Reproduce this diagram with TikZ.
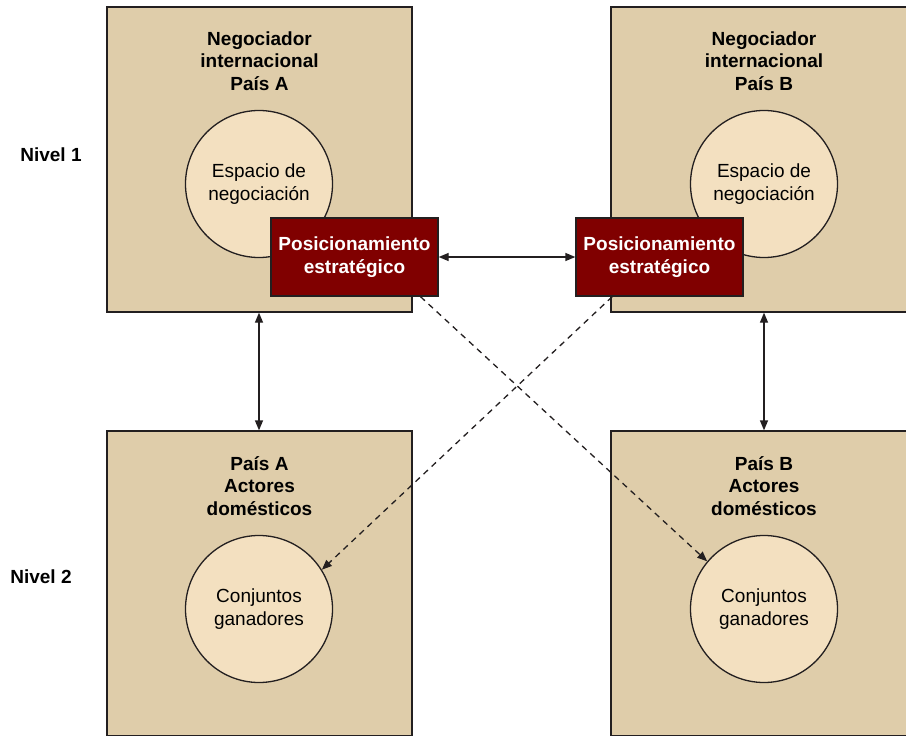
\documentclass[tikz,border=0pt]{standalone}
\usepackage{fontspec}
\setmainfont{Liberation Sans}
\usepackage{tikz}
\usetikzlibrary{arrows.meta}
\definecolor{cajafondo}{RGB}{223,205,170}
\definecolor{circfondo}{RGB}{243,224,192}
\definecolor{granate}{RGB}{128,0,0}
\definecolor{borde}{RGB}{35,31,32}
\newcommand{\tamano}{\fontsize{19}{22.5}\selectfont}
\tikzset{caja/.style={draw=borde, fill=cajafondo, line width=1.3pt, rectangle, minimum width=305pt, minimum height=305pt}}
\tikzset{circulo/.style={draw=borde, fill=circfondo, line width=1.3pt, circle, minimum size=147pt, align=center, font=\tamano}}
\tikzset{posicion/.style={draw=borde, fill=granate, text=white, line width=1.3pt, rectangle, minimum width=167pt, minimum height=78pt, align=center, font=\tamano\bfseries}}
\tikzset{titulo/.style={align=center, font=\tamano\bfseries}}
\tikzset{punta/.tip={Triangle[length=10pt, width=8pt]}}
\tikzset{bidir/.style = {punta-punta, line width=1.3pt, draw=borde}}
\tikzset{punteado/.style = {-punta, line width=1.3pt, draw=borde, dash pattern=on 6pt off 5pt}}

\begin{document}
\begin{tikzpicture}[x=1pt, y=-1pt]
    \useasboundingbox (0,0) rectangle (906,736);
    \clip (0,0) rectangle (906,736);
    \node[caja] (negA) at (259.5, 159.5) {};
    \node[caja] (negB) at (763.5, 159.5) {};
    \node[caja] (domA) at (259.5, 583.5) {};
    \node[caja] (domB) at (763.5, 583.5) {};
    
    \node[titulo] (tnegA) at (259.5, 61) {Negociador\\internacional\\País A};
    \node[titulo] (tnegB) at (764, 61) {Negociador\\internacional\\País B};
    \node[titulo] (tdomA) at (259.5, 486) {País A\\Actores\\domésticos};
    \node[titulo] (tdomB) at (764, 486) {País B\\Actores\\domésticos};
    
    \node[circulo] (espA) at (259, 184) {Espacio de\\negociación};
    \node[circulo] (espB) at (764, 184) {Espacio de\\negociación};
    \node[circulo] (ganA) at (259, 609) {Conjuntos\\ganadores};
    \node[circulo] (ganB) at (764, 609) {Conjuntos\\ganadores};
    
    \node[posicion] (posA) at (354.5, 257) {Posicionamiento\\estratégico};
    \node[posicion] (posB) at (659.5, 257) {Posicionamiento\\estratégico};
    
    \node[titulo] (niv1) at (51, 155) {Nivel 1};
    \node[titulo] (niv2) at (41, 577) {Nivel 2};
    
    \draw[bidir] (posA) -- (posB);
    \draw[bidir] (negA.south -| espA) -- (domA.north -| espA);
    \draw[bidir] (negB.south -| espB) -- (domB.north -| espB);
    
    \draw[punteado] (posA.-31) -- (ganB.140);
    \draw[punteado] (posB.-140) -- (ganA.32);
    
\end{tikzpicture}
\end{document}
